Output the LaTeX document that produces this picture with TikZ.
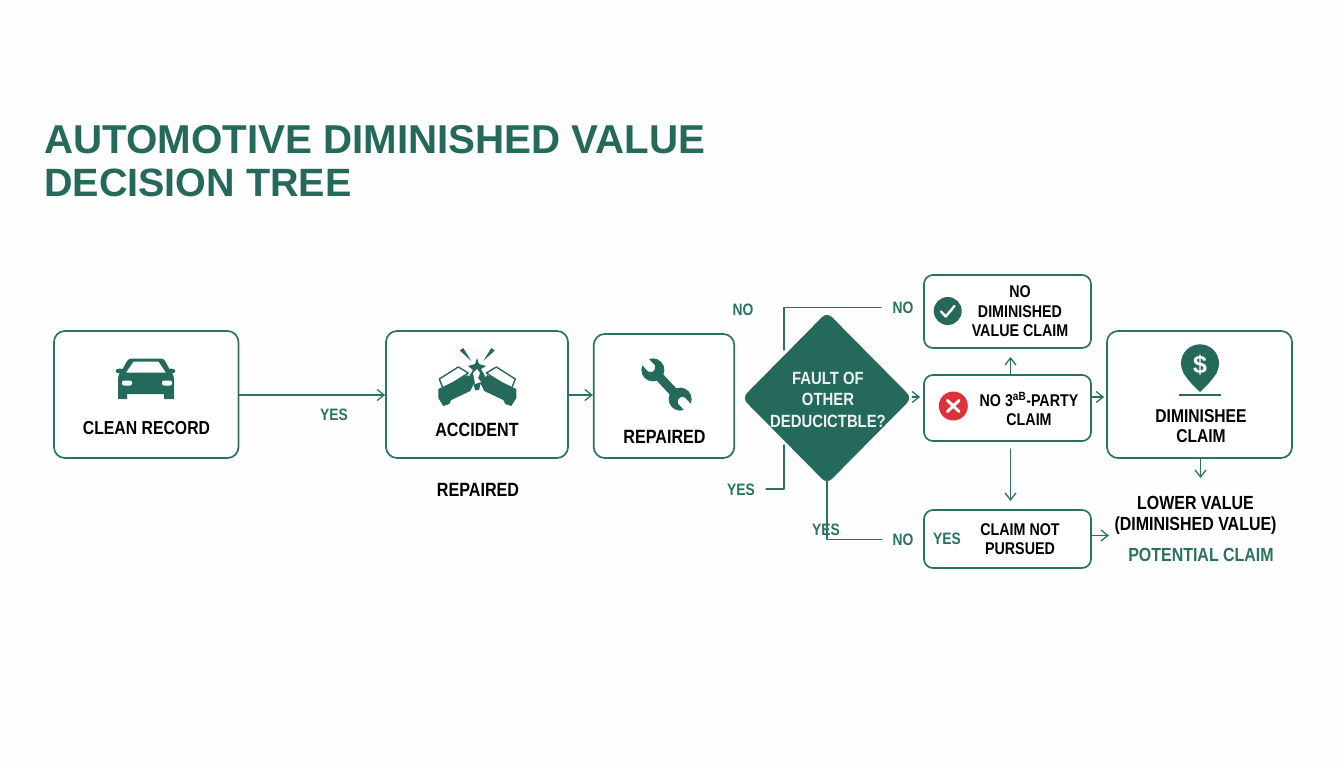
\documentclass[tikz,border=0pt]{standalone}
\usepackage{fontspec}
\setmainfont{Liberation Sans}
\newfontfamily\diagfont{Liberation Sans}[FakeStretch=0.84]
\usetikzlibrary{arrows.meta,shapes.geometric}
\definecolor{dvgreen}{HTML}{24695A}
\definecolor{dvline}{HTML}{2C7261}
\definecolor{dvred}{HTML}{DE323A}
\definecolor{dvpaper}{HTML}{FDFEFD}
\tikzset{
	box/.style={draw=dvline,line width=1.7pt,rounded corners=11pt,fill=white,inner sep=0pt,minimum width=#1},
	flow/.style={draw=dvline,line width=1.3pt},
	txt/.style={font=\diagfont\bfseries\fontsize{19.2}{20}\selectfont,align=center,text=black,inner sep=0pt},
	small/.style={font=\diagfont\bfseries\fontsize{17}{19.6}\selectfont,align=center,text=black,inner sep=0pt},
	tag/.style={font=\diagfont\bfseries\fontsize{16.5}{18}\selectfont,text=dvline,inner sep=0pt},
}
\begin{document}
\begin{tikzpicture}[x=1pt,y=-1pt,line join=round,line cap=round,>={Straight Barb[length=7pt,width=11pt]}]
	\fill[dvpaper] (0,0) rectangle (1344,768);
	\useasboundingbox (0,0) rectangle (1344,768);
	% title
	\node[anchor=west,font=\bfseries\fontsize{40.3}{44}\selectfont,text=dvgreen,inner sep=0pt] (title1) at (44,140) {AUTOMOTIVE DIMINISHED VALUE};
	\node[anchor=west,font=\bfseries\fontsize{39.5}{44}\selectfont,text=dvgreen,inner sep=0pt] (title2) at (44,183) {DECISION TREE};
	% free ends of the connectors
	\coordinate (nofree) at (784,350);
	\coordinate (yesfree) at (784,445);
	\coordinate (nothirdout) at (1010.5,449);
	\coordinate (notpursuedin) at (1010.5,501);
	\coordinate (nodvin) at (1010.5,357);
	\coordinate (lowerin) at (1109,535.5);
	\coordinate (lowertop) at (1200.5,478);
	% boxes
	\node[box=184.5pt,minimum height=127pt] (clean) at (146.2,394.5) {};
	\node[box=182pt,minimum height=127pt] (accident) at (477,394.5) {};
	\node[box=140.5pt,minimum height=124pt] (repaired) at (664,396) {};
	\node[box=167pt,minimum height=73pt,rounded corners=9pt] (nodv) at (1007.5,311.5) {};
	\node[box=167pt,minimum height=66pt,rounded corners=9pt] (nothird) at (1007.5,408) {};
	\node[box=167pt,minimum height=58pt,rounded corners=9pt] (notpursued) at (1007.5,539) {};
	\node[box=185pt,minimum height=127pt] (dvclaim) at (1199.5,394.5) {};
	% connectors
	\draw[flow,->] (clean.east |- 0,395) -- (accident.west |- 0,395);
	\draw[flow,->] (accident.east |- 0,395) -- (repaired.west |- 0,395);
	\draw[flow,->,shorten >=2pt] (nothird.east |- 0,397) -- (dvclaim.west |- 0,397);
	\draw[flow,->] (nothird.north -| nodvin) -- (nodvin);
	\draw[flow,->] (nothirdout) -- (notpursuedin);
	\draw[flow,->] (notpursued.east |- 0,535.5) -- (lowerin);
	\draw[flow,->] (dvclaim.south -| lowertop) -- (lowertop);
	\draw[flow] (nofree) |- (881,307.5);
	\draw[flow] (yesfree) |- (766,489);
	\draw[flow] (827,480) |- (882,539.5);
	% decision
	\node[diamond,fill=dvgreen,rounded corners=7pt,minimum width=170pt,minimum height=172pt,inner sep=0pt] (fault) at (827,398) {};
	\draw[flow,->,shorten >=3pt] (fault.east |- 0,397) -- (nothird.west |- 0,397);
	% texts
	\node[txt,font=\diagfont\bfseries\fontsize{18.8}{20}\selectfont] (cleantxt) at (146.5,428.5) {CLEAN RECORD};
	\node[txt] (accidenttxt) at (477,430) {ACCIDENT};
	\node[txt] (repairedtxt) at (664.5,436.5) {REPAIRED};
	\node[txt] (repairedout) at (478,489.5) {REPAIRED};
	\node[small,font=\diagfont\bfseries\fontsize{17.7}{21.5}\selectfont,text=white!92!dvgreen] (faulttxt) at (828,399.5) {FAULT OF\\OTHER\\DEDUCICTBLE?};
	\node[small] (nodvtxt) at (1020,311.5) {NO\\DIMINISHED\\VALUE CLAIM};
	\node[small] (nothirdtxt) at (1029,409) {NO 3\textsuperscript{aB}-PARTY\\CLAIM};
	\node[small] (notpursuedtxt) at (1020,539) {CLAIM NOT\\PURSUED};
	\node[small,font=\diagfont\bfseries\fontsize{18.6}{20}\selectfont] (dvclaimtxt) at (1201,426) {DIMINISHEE\\CLAIM};
	\node[small,font=\diagfont\bfseries\fontsize{19}{21}\selectfont] (lowertxt) at (1195.5,515.5) {LOWER VALUE\\(DIMINISHED VALUE)};
	\node[tag,font=\diagfont\bfseries\fontsize{19}{20}\selectfont] (potential) at (1201,555) {POTENTIAL CLAIM};
	\node[tag] (yesa) at (334,414.5) {YES};
	\node[tag] (noa) at (743,310) {NO};
	\node[tag] (nob) at (903,308) {NO};
	\node[tag] (yesb) at (741,489.5) {YES};
	\node[tag] (yesc) at (826,529.5) {YES};
	\node[tag] (noc) at (903,540) {NO};
	\node[tag] (yesd) at (947,539) {YES};
	% car
	\fill[dvgreen,even odd rule] (132,358.5) -- (161,358.5) .. controls (163,358.5) and (164,359.5) .. (165,361) -- (170,370) .. controls (172,373) and (174,375) .. (174,379) -- (174,399) -- (164,399) -- (164,394) -- (127,394) -- (127,399) -- (118,399) -- (118,379) .. controls (118,375) and (120,373) .. (122,370) -- (127,361) .. controls (128,359.5) and (130,358.5) .. (132,358.5) -- cycle (133.5,361.5) -- (126,372.5) -- (166,372.5) -- (158.5,361.5) -- cycle;
	\fill[dvgreen] (120,371) ellipse (4.5 and 2.5) (171,371) ellipse (4.5 and 2.5);
	\fill[white,rounded corners=2pt] (122,380.5) rectangle (132,385.5) (162,380.5) rectangle (172,385.5);
	% accident icon
	\foreach \s in {1,-1}{
		\begin{scope}[shift={(477.3,0)},xscale=\s]
			\draw[dvgreen,line width=1.4pt,fill=white] (-38,379) -- (-19,367) -- (-9,373) -- (-34,389) -- cycle;
			\fill[dvgreen] (-39,389) -- (-10,375) -- (-3,383) -- (-7,391) -- (-26,400) -- (-28,404) -- (-34,406) -- (-39,398) -- cycle;
			\fill[dvgreen] (-17.5,350.5) -- (-14,348) -- (-6,361) -- cycle;
		\end{scope}}
	\fill[dvgreen] (477,358) -- (479,364) -- (486,366) -- (481,369) -- (486,378) -- (481,382) -- (479,390) -- (475,390) -- (473,382) -- (468,378) -- (473,370) -- (468,366) -- (475,364) -- cycle;
	\fill[white] (477,369) -- (480,373) -- (478,378) -- (481,382) -- (475,384) -- (474,378) -- (473,373) -- cycle;
	% wrench
	\begin{scope}[shift={(666.5,384.5)},rotate=-47]
		\fill[dvgreen,rounded corners=1pt] (-22,-4.5) rectangle (22,4.5);
		\fill[dvgreen] (-20,0) circle (11.5) (20,0) circle (11.5);
		\fill[white] (-33,-4.5) -- (-22,-4.5) -- (-19,-2) -- (-19,2) -- (-22,4.5) -- (-33,4.5) -- cycle;
		\fill[white] (33,-4.5) -- (22,-4.5) -- (19,-2) -- (19,2) -- (22,4.5) -- (33,4.5) -- cycle;
	\end{scope}
	% dollar pin
	\fill[dvgreen] (1200,363.3) circle (19);
	\fill[dvgreen] (1183,372) .. controls (1188,381) and (1195,387) .. (1200,392) .. controls (1205,387) and (1212,381) .. (1217,372) -- cycle;
	\draw[dvgreen,line width=2pt,line cap=butt] (1179,395) -- (1221,395);
	\node[font=\bfseries\fontsize{25}{25}\selectfont,text=white,inner sep=0pt] (dollar) at (1200,365) {\$};
	% check and cross
	\fill[dvgreen] (947.7,311) circle (14);
	\draw[white,line width=2.4pt] (941,311.5) -- (945.8,316.5) -- (954.5,306);
	\fill[dvred] (953.3,406) circle (14.5);
	\draw[white,line width=3pt] (947.5,400.5) -- (959,411.5) (959,400.5) -- (947.5,411.5);
\end{tikzpicture}
\end{document}
